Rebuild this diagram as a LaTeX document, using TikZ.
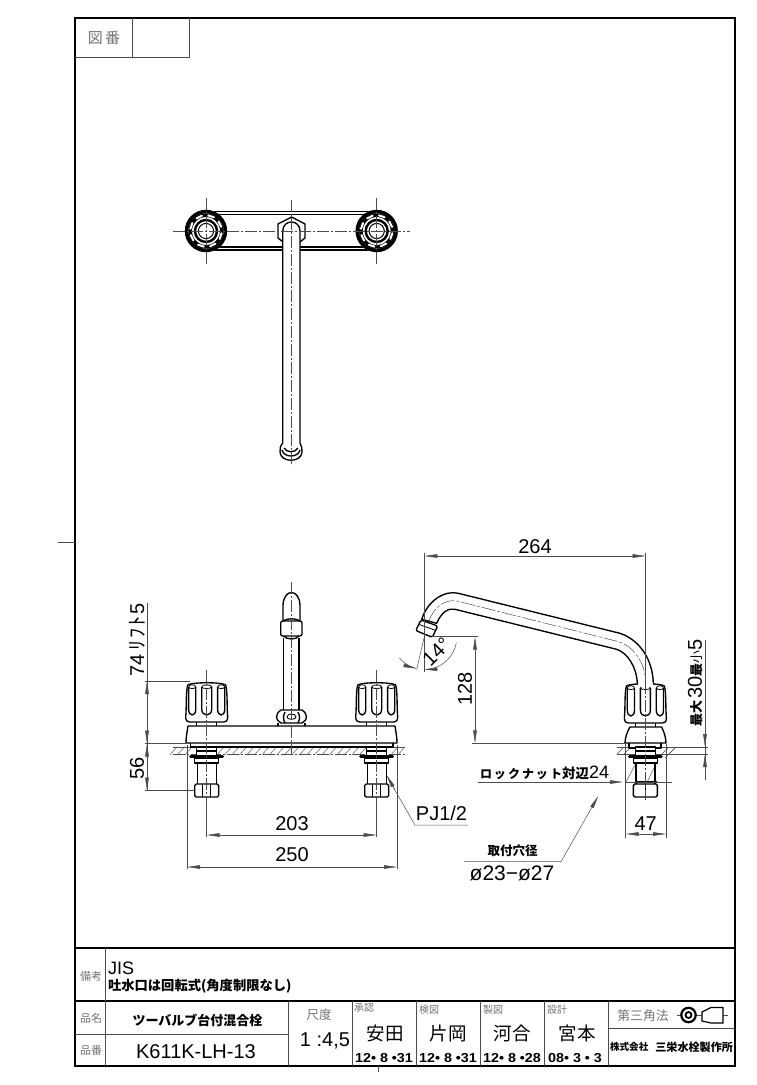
\documentclass[tikz,border=0pt]{standalone}
\usepackage{fontspec}
\setmainfont{Liberation Sans}
\newfontfamily\jpf{Noto Sans CJK JP}
\usetikzlibrary{arrows.meta}
\newcommand\szpx[1]{\fontsize{#1}{#1}\selectfont}
\definecolor{graytxt}{gray}{0.45}
\definecolor{thinc}{gray}{0.3}
\tikzset{
  x=1pt,y=-1pt,
  heavy/.style={line width=1.35pt,black,line join=round},
  frameln/.style={line width=1.1pt,black},
  cellln/.style={line width=.5pt,thinc},
  dimln/.style={line width=.5pt,thinc},
  arrowed/.style={dimln,-{Triangle[length=13pt,width=3.6pt]}},
  centreln/.style={line width=.45pt,thinc,dash pattern=on 12pt off 2pt on 2pt off 2pt},
  hatchln/.style={line width=.45pt,thinc},
  txt/.style={inner sep=0pt,outer sep=0pt,anchor=center},
  grayjp/.style={txt,text=graytxt,font=\jpf\szpx{#1}},
  boldjp/.style={txt,font=\jpf\bfseries\szpx{#1}},
  digit/.style={txt,font=\szpx{#1}},
  boldnum/.style={txt,transform shape,xscale=1.1,font=\bfseries\szpx{13}},
  knob/.pic={
    \draw[heavy,fill=white] (-19,4) .. controls (-15,1) and (15,1) .. (19,4)
      .. controls (21,12) and (20,25) .. (21,36)
      .. controls (21,40) and (19,41) .. (17,41) -- (-17,41)
      .. controls (-19,41) and (-21,40) .. (-21,36)
      .. controls (-20,25) and (-21,12) .. (-19,4) -- cycle;
    \foreach \c/\w in {0/5,-14.5/3.6,14.5/3.6}{
      \draw[heavy] (\c-\w,6) -- (\c-\w,28) .. controls (\c-\w,36) and (\c+\w,36) .. (\c+\w,28) -- (\c+\w,6);
      \draw[line width=.8pt] (\c-\w,6) .. controls (\c-\w,3) and (\c+\w,3) .. (\c+\w,6) .. controls (\c+\w,8) and (\c-\w,8) .. (\c-\w,6);
    }
    \draw[heavy] (-10,41) -- (-10,45) (10,41) -- (10,45);
  },
  stempic/.pic={
    \draw[heavy,fill=white] (-10,747) rectangle (10,756);
    \draw[heavy] (-10,751) -- (10,751);
    \draw[line width=3pt,line cap=round] (-16,756) -- (16,756);
    \draw[heavy,fill=white] (-12,758) rectangle (12,763);
    \draw[heavy,fill=white] (-9.5,763) rectangle (9.5,785);
    \draw[heavy,fill=white,rounded corners=1.5pt] (-12,784) rectangle (12,797);
  },
  planknob/.pic={
    \draw[fill=white,draw=none] (0,0) circle[radius=21];
    \draw[line width=3.6pt] (0,0) circle[radius=19.4];
    \draw[line width=3.6pt] (0,0) circle[radius=15.8];
    \foreach \a in {0,45,...,315}
      \draw[line width=2pt,white,line cap=round] ({15.8*cos(\a+8)},{15.8*sin(\a+8)}) -- ({15.8*cos(\a+30)},{15.8*sin(\a+30)});
    \draw[line width=2.4pt] (0,0) circle[radius=11];
    \draw[line width=1pt] (0,0) circle[radius=7.6];
  }
}
\begin{document}
\begin{tikzpicture}
\useasboundingbox (0,0) rectangle (756,1085);
% sheet frame
\draw[frameln] (75,18) rectangle (735,1066);
\draw[cellln] (75,57) -- (189,57) -- (189,18) (132,18) -- (132,57);
\draw[cellln] (58,542) -- (75,542) (378,1066) -- (378,1072);
\node[grayjp=15] (zuban) at (104,38) {図\,番};
% title block
\draw[frameln] (75,948) -- (735,948) (75,1001) -- (735,1001);
\draw[cellln] (105.5,948) -- (105.5,1066) (75,1034) -- (288,1034)
  (288,1001) -- (288,1066) (352,1001) -- (352,1066) (416,1001) -- (416,1066)
  (480,1001) -- (480,1066) (544,1001) -- (544,1066) (608,1001) -- (608,1066)
  (608,1028) -- (735,1028);
\node[grayjp=11] (bikou) at (91,976) {備考};
\node[digit=18,anchor=west] (jis) at (108,968) {JIS};
\node[boldjp=13.3,anchor=west] (note) at (108,986) {吐水口は回転式(角度制限なし)};
\node[grayjp=11] (hinmei) at (91,1018) {品名};
\node[grayjp=11] (hinban) at (91,1050) {品番};
\node[boldjp=13] (name) at (197.5,1020) {ツーバルブ台付混合栓};
\node[digit=20] (code) at (196,1051.5) {K611K-LH-13};
\node[grayjp=12.5] (shakudo) at (319,1015) {尺度};
\node[digit=20] (scale) at (325,1041) {1 :4,5};
\node[grayjp=10,anchor=west] (r1) at (354,1008) {承認};
\node[grayjp=10,anchor=west] (r2) at (419,1010) {検図};
\node[grayjp=10,anchor=west] (r3) at (483,1010) {製図};
\node[grayjp=10,anchor=west] (r4) at (547,1010) {設計};
\node[txt,font=\jpf\szpx{18.5}] (s1) at (385,1033) {安田};
\node[txt,font=\jpf\szpx{18.5}] (s2) at (448,1033) {片岡};
\node[txt,font=\jpf\szpx{18.5}] (s3) at (512,1033) {河合};
\node[txt,font=\jpf\szpx{18.5}] (s4) at (577,1033) {宮本};
\node[boldnum] (d1) at (384,1058) {12• 8 •31};
\node[boldnum] (d2) at (448,1058) {12• 8 •31};
\node[boldnum] (d3) at (512,1058) {12• 8 •28};
\node[boldnum] (d4) at (575,1058) {08• 3 • 3};
\node[grayjp=12.8] (third) at (643,1016) {第三角法};
\coordinate (symc) at (688.5,1015);
\draw[dimln] (677,1015) -- (728,1015);
\draw[line width=2.2pt,fill=white] (symc) circle[radius=7.2];
\draw[line width=1.8pt] (symc) circle[radius=3];
\draw[line width=1.2pt,fill=white] (702,1012) -- (711,1007.5) -- (723,1007.5) -- (723,1023) -- (711,1023) -- (702,1021) -- cycle;
\node[boldjp=9.6,anchor=west] (co) at (610,1047) {株式会社};
\node[boldjp=11.1,anchor=east] (co2) at (733,1047) {三栄水栓製作所};

% ------- plan view
\draw[heavy] (206,211.7) -- (376.7,211.7) (206,214.3) -- (376.7,214.3)
  (206,247) -- (376.7,247) (206,250) -- (376.7,250);
\pic at (206,231) {planknob};
\pic at (376.7,231) {planknob};
\draw[heavy,fill=white] (278,224) -- (291.7,217) -- (305,224) -- (305,238) -- (300,242) -- (283,242) -- (278,238) -- cycle;
\draw[heavy,fill=white] (282.8,445) -- (282.8,231) .. controls (282.8,219) and (300,219) .. (300,231) -- (300,445);
\draw[heavy,fill=white] (282.8,443) .. controls (280,446) and (280,449) .. (280,452) .. controls (280.5,463) and (301.5,463) .. (302,452) .. controls (302,449) and (302,446) .. (300,443);
\draw[heavy] (282,450) .. controls (284,458) and (298,458) .. (300,450);
\draw[heavy] (284,448) .. controls (287,453) and (295,453) .. (298,448);
\draw[centreln] (173,231) -- (410,231) (206,198) -- (206,264) (376.7,198) -- (376.7,264) (291.7,200) -- (291.7,466);

% ------- front view
\foreach \h in {174,181.5,189,221,228.5,236,243.5,251,258.5,266,273.5,281,288.5,296,303.5,311,318.5,326,333.5,341,348.5,356,363.5,395,402}
  \draw[hatchln] (\h-4,754.7) -- (\h+3,747);
\draw[dimln] (172.7,747) -- (405,747);
\draw[centreln] (172.7,754.7) -- (405,754.7);
\draw[heavy] (188,726) -- (395,726) .. controls (396,732) and (397,738) .. (397,743) -- (186,743) .. controls (186,738) and (187,732) .. (188,726) -- cycle;
\draw[heavy] (190.7,743) -- (190.7,747) -- (393,747) -- (393,743);
\pic at (206.7,0) {stempic};
\pic at (376.7,0) {stempic};
\foreach \vx in {206.7,376.7}{
  \draw[heavy] (\vx-4,784) -- (\vx-4,797) (\vx+4,784) -- (\vx+4,797);
}
\pic at (206.7,681) {knob};
\pic at (376.7,681) {knob};
% centre riser
\draw[heavy] (283,621) -- (283,606) .. controls (283,588) and (300,588) .. (300,606) -- (300,621);
\draw[heavy] (283.5,638) -- (283.5,710) (299,638) -- (299,710);
\draw[heavy,fill=white,rounded corners=2pt] (280.7,621) rectangle (302,636);
\draw[heavy] (283,621) .. controls (287,618) and (296,618) .. (300,621);
\draw[heavy] (283.5,636) .. controls (287,640) and (296,640) .. (299,636);
\draw[heavy] (281,710) -- (302,710) .. controls (308,714) and (308,720) .. (302,723) -- (281,723) .. controls (275,720) and (275,714) .. (281,710) -- cycle;
\draw[heavy] (285,712) .. controls (283,716) and (283,719) .. (285,723) (298,712) .. controls (300,716) and (300,719) .. (298,723);
\draw[line width=.9pt] (287,717) .. controls (287,713) and (296,713) .. (296,717) .. controls (296,720) and (287,720) .. (287,717);
\draw[heavy] (278,723) -- (278,726) (305,723) -- (305,726);
\draw[centreln] (291.5,582) -- (291.5,754) (206.7,670) -- (206.7,800) (376.7,670) -- (376.7,800);

% dimensions, front view
\coordinate (kt) at (147,681); \coordinate (pl) at (147,743.5); \coordinate (nt) at (147,790.5);
\draw[dimln] (145,681) -- (190,681) (145,743.5) -- (186,743.5) (145,790.5) -- (194,790.5);
\draw[dimln] (147,603) -- (nt);
\draw[arrowed] (147,694) -- (kt);
\draw[arrowed] (147,730) -- (pl);
\draw[arrowed] (147,757) -- (pl);
\draw[arrowed] (147,777) -- (nt);
\node[txt,rotate=90] (lift) at (137,640) {\szpx{20}74\hspace{3pt}\jpf\szpx{20}ﾘ\hspace{2pt}ﾌ\hspace{2pt}ﾄ\hspace{2pt}\fontspec{Liberation Sans}\szpx{20}5};
\node[digit=20,rotate=90] (d56) at (137,768) {56};
\draw[dimln] (187,745) -- (187,869) (397,745) -- (397,869) (206.7,797) -- (206.7,837) (376.7,797) -- (376.7,837);
\coordinate (a1) at (206.7,835); \coordinate (a2) at (376.7,835);
\coordinate (b1) at (187,867); \coordinate (b2) at (397,867);
\draw[arrowed] (291,835) -- (a1); \draw[arrowed] (291,835) -- (a2);
\draw[arrowed] (291,867) -- (b1); \draw[arrowed] (291,867) -- (b2);
\node[digit=20] (t203) at (292,823.5) {203};
\node[digit=20] (t250) at (292,854.5) {250};
\coordinate (pjtip) at (386.5,775);
\coordinate (pjk) at (415,825);
\coordinate (pje) at (468,825);
\draw[dimln] (pje) -- (pjk) -- (392,785);
\draw[arrowed] (395,790) -- (pjtip);
\node[digit=20] (pj) at (441.5,813) {PJ1/2};

% ------- side view
\foreach \h in {621,628,666,673}
  \draw[hatchln] (\h-4,754) -- (\h+3,747);
\draw[dimln] (616.7,747) -- (708,747);
\draw[dimln] (616.7,754) -- (708,754);
\draw[heavy,fill=white] (630,727) -- (661.7,727) .. controls (664,732) and (666,738) .. (666,743) -- (625,743) .. controls (625,738) and (627,732) .. (630,727) -- cycle;
\draw[heavy] (629,743) -- (629,748) -- (661,748) -- (661,743);
\pic at (645.4,0) {stempic};
\draw[heavy] (645.4,784) -- (645.4,797);
\draw[line width=2pt] (634.5,782) -- (657,782);
\draw[hatchln] (635,765) -- (626,782) (654,768) -- (645,786) (674,749) -- (665,758);
\pic at (645.4,682) {knob};
% spout
\draw[heavy,fill=white] (421.7,619.3) .. controls (428,600) and (445,590) .. (458.3,593.3) -- (620,633.3) .. controls (640,640) and (653,660) .. (653.3,684) -- (637.3,684) .. controls (637,668) and (628,653) .. (616.7,649.3) -- (455,609.3) .. controls (448,607.5) and (441,613) .. (436.7,623.3) -- cycle;
\fill[white] (638.2,683) rectangle (652.6,687);
\draw[heavy,fill=white,rounded corners=1.5pt] (421,620) -- (437.7,626) -- (432.3,637.3) -- (415.7,630.5) -- cycle;
\draw[line width=.8pt] (419.3,624.5) -- (436,630.5);
\draw[dimln,dash pattern=on 14pt off 2pt on 3pt off 2pt] (429,621) .. controls (434,606) and (446,599) .. (457,601) -- (618,641.5) .. controls (634,646) and (645.5,664) .. (645.7,682);
\draw[centreln] (645.7,682) -- (645.7,800);
% dims side view
\coordinate (c1) at (424.3,556); \coordinate (c2) at (645.7,556);
\draw[dimln] (424.3,553) -- (424.3,672) (645.7,553) -- (645.7,682);
\draw[arrowed] (535,556) -- (c1); \draw[arrowed] (535,556) -- (c2);
\node[digit=20] (t264) at (535,546.5) {264};
\coordinate (h1) at (475,636.7); \coordinate (h2) at (475,743.3);
\draw[dimln] (432,636.7) -- (478,636.7) (472,743.3) -- (626,743.3);
\draw[arrowed] (475,690) -- (h1); \draw[arrowed] (475,690) -- (h2);
\node[digit=20,rotate=90] (t128) at (465,689) {128};
\draw[dimln] (424,638) -- (416.7,669.5);
\draw[arrowed] plot[domain=10:90,samples=30] ({424.3+32.5*cos(\x)},{637+32.5*sin(\x)});
\draw[arrowed] plot[domain=140:104,samples=30] ({424.3+32.5*cos(\x)},{637+32.5*sin(\x)});
\node[digit=20,rotate=45] (t14) at (436.5,651.5) {14°};
% height at side
\coordinate (v1) at (705,747); \coordinate (v2) at (705,754);
\draw[dimln] (705,640) -- (705,780);
\draw[arrowed] (705,734) -- (v1); \draw[arrowed] (705,767) -- (v2);
\node[txt,rotate=90] (vtxt) at (695.5,683) {\jpf\bfseries\szpx{13}最大\,\normalfont\fontspec{Liberation Sans}\szpx{20}30\jpf\bfseries\szpx{13}最\mdseries 小\fontspec{Liberation Sans}\szpx{20}5};
% lock nut
\coordinate (lk) at (623,782);
\draw[dimln] (478,782) -- (610,782) (626,782) -- (672,782);
\draw[arrowed] (610,782) -- (lk);
\node[txt,anchor=west] (lock) at (480,773) {\jpf\bfseries\szpx{12}ロ\,ッ\,ク\,ナ\,ッ\,ト\szpx{13.5}対辺\fontspec{Liberation Sans}\mdseries\szpx{18}24};
% 47
\draw[dimln] (625.7,744) -- (625.7,838) (666,744) -- (666,838);
\coordinate (e1) at (625.7,834); \coordinate (e2) at (666,834);
\draw[arrowed] (645,834) -- (e1); \draw[arrowed] (645,834) -- (e2);
\node[digit=20] (t47) at (645.7,824) {47};
% hole leader
\coordinate (ht) at (598.3,796); \coordinate (hk) at (561,861.7); \coordinate (hs) at (464,861.7);
\draw[dimln] (hs) -- (hk) -- (591.5,808);
\draw[arrowed] (591.5,808) -- (ht);
\node[boldjp=12.5] (hole) at (512.7,851) {取付穴径};
\node[digit=21] (dia) at (512,873) {ø23−ø27};
\end{tikzpicture}
\end{document}
